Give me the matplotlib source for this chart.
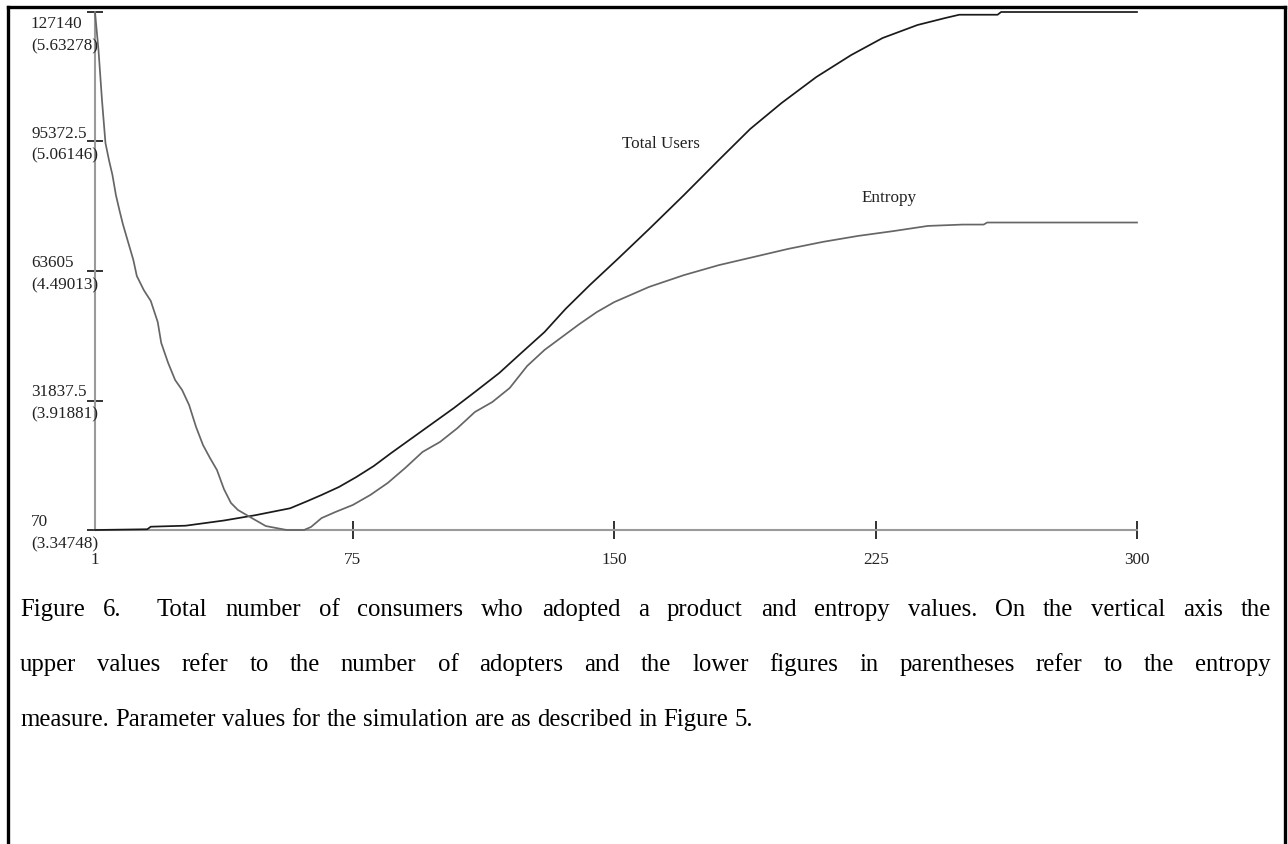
import matplotlib
matplotlib.use("Agg")
import matplotlib.pyplot as plt
from matplotlib.lines import Line2D

# ---------------- data ----------------
users_t = [1, 16, 17, 27, 38, 47, 57, 62, 66, 71, 76, 81, 86, 92, 98, 104, 110,
           117, 123, 130, 136, 143, 151, 160, 170, 180, 189, 198, 208, 218,
           227, 237, 245, 249, 260, 261, 300]
users = [70, 250, 880, 1125, 2400, 3700, 5400, 7180, 8660, 10620, 13070, 15770,
         18960, 22640, 26320, 30000, 33920, 38580, 43250, 48640, 54280, 60170,
         66560, 73900, 82240, 90830, 98440, 104810, 111200, 116590, 120760,
         123950, 125670, 126470, 126470, 127140, 127140]

entropy_t = [1, 2, 3, 4, 5, 6, 7, 8, 9, 10, 12, 13, 15, 17, 19, 20, 22, 24, 26,
             28, 30, 32, 34, 36, 38, 40, 42, 45, 50, 56, 61, 63, 66, 70, 75,
             80, 85, 90, 95, 100, 105, 110, 115, 120, 125, 130, 135, 140, 145,
             150, 160, 170, 180, 190, 200, 210, 220, 230, 240, 250, 256, 257,
             300]
entropy = [5.6328, 5.465, 5.245, 5.055, 4.980, 4.914, 4.825, 4.759, 4.697,
           4.644, 4.539, 4.468, 4.406, 4.358, 4.265, 4.173, 4.084, 4.009,
           3.965, 3.899, 3.802, 3.722, 3.665, 3.612, 3.528, 3.467, 3.436,
           3.409, 3.365, 3.3475, 3.3475, 3.361, 3.400, 3.427, 3.458, 3.502,
           3.555, 3.621, 3.692, 3.736, 3.797, 3.868, 3.912, 3.974, 4.071,
           4.142, 4.199, 4.256, 4.309, 4.353, 4.420, 4.472, 4.516, 4.552,
           4.588, 4.619, 4.645, 4.666, 4.689, 4.695, 4.695, 4.704, 4.704]

y_ticks_users = [70, 31837.5, 63605, 95372.5, 127140]
y_ticks_users_lbl = ["70", "31837.5", "63605", "95372.5", "127140"]
y_ticks_entropy_lbl = ["(3.34748)", "(3.91881)", "(4.49013)", "(5.06146)", "(5.63278)"]
x_ticks = [1, 75, 150, 225, 300]
x_tick_lbl = ["1", "75", "150", "225", "300"]

caption_lines = [
    "Figure 6.  Total number of consumers who adopted a product and entropy values. On the vertical axis the",
    "upper values refer to the number of adopters and the lower figures in parentheses refer to the entropy",
    "measure. Parameter values for the simulation are as described in Figure 5.",
]

# ---------------- figure ----------------
W, H = 1288, 844
plt.rcParams['font.family'] = ['Liberation Serif', 'DejaVu Serif']
fig = plt.figure(figsize=(W / 100, H / 100), dpi=100)
fig.patch.set_facecolor('white')

def fx(px):
    return px / W

def fy(py):
    return 1 - py / H

ax = fig.add_axes([fx(95), fy(530), fx(1137) - fx(95), fy(12) - fy(530)])
ax.set_xlim(1, 300)
ax.set_ylim(70, 127140)
for s in ['top', 'right']:
    ax.spines[s].set_visible(False)
for s in ['left', 'bottom']:
    ax.spines[s].set_color('#9a9a9a')
    ax.spines[s].set_linewidth(1.5)
ax.patch.set_alpha(0)

ax.plot(users_t, users, color='#1a1a1a', lw=1.25, zorder=4, clip_on=False)

ax2 = ax.twinx()
ax2.set_ylim(3.34748, 5.63278)
ax2.set_xlim(1, 300)
ax2.axis('off')
ax2.plot(entropy_t, entropy, color='#666666', lw=1.25, zorder=3, clip_on=False)

# x ticks
ax.set_xticks(x_ticks)
ax.set_xticklabels(x_tick_lbl, fontsize=12.3, color='#222222')
ax.tick_params(axis='x', direction='inout', length=13, width=1.3, color='#222222', pad=9)
ax.xaxis.get_major_ticks()[0].tick1line.set_visible(False)

# y ticks
ax.set_yticks(y_ticks_users)
ax.set_yticklabels([])
ax.tick_params(axis='y', direction='inout', length=11.5, width=1.3, color='#222222')

for i, (v, l1, l2) in enumerate(zip(y_ticks_users, y_ticks_users_lbl, y_ticks_entropy_lbl)):
    if i == len(y_ticks_users) - 1:
        o1, o2 = -12, -34
    else:
        o1, o2 = 8, -14
    ax.annotate(l1, xy=(fx(31), v), xycoords=('figure fraction', 'data'),
                xytext=(0, o1 * 0.72), textcoords='offset points',
                ha='left', va='center', fontsize=12.3, color='#222222', annotation_clip=False)
    ax.annotate(l2, xy=(fx(31), v), xycoords=('figure fraction', 'data'),
                xytext=(0, o2 * 0.72), textcoords='offset points',
                ha='left', va='center', fontsize=12.3, color='#222222', annotation_clip=False)

# series labels
fig.text(fx(622), fy(144), "Total Users", ha='left', va='center', fontsize=12.3, color='#222222')
fig.text(fx(862), fy(198), "Entropy", ha='left', va='center', fontsize=12.3, color='#222222')

# outer border
lw_b = 2.4
fig.add_artist(Line2D([fx(8), fx(1285)], [fy(7), fy(7)], color='black', lw=lw_b))
fig.add_artist(Line2D([fx(8), fx(8)], [fy(7), -0.1], color='black', lw=lw_b))
fig.add_artist(Line2D([fx(1285), fx(1285)], [fy(7), -0.1], color='black', lw=lw_b))

# caption (justified)
renderer = fig.canvas.get_renderer()
cap_fs = 17.8
left_px, right_px = 20, 1271
baselines = [616, 671, 726]

def width_of(s):
    t = fig.text(0, 0, s, fontsize=cap_fs)
    w = t.get_window_extent(renderer).width
    t.remove()
    return w

space_w = width_of("a a") - width_of("aa")
for li, (line, by) in enumerate(zip(caption_lines, baselines)):
    words = line.replace("  ", " \u0000").split(" ")
    gaps_weight = []
    clean = []
    for w in words:
        if w.startswith("\u0000"):
            gaps_weight.append(2.0)
            clean.append(w[1:])
        else:
            gaps_weight.append(1.0)
            clean.append(w)
    gaps_weight = gaps_weight[1:]
    widths = [width_of(w) for w in clean]
    justify = li < len(caption_lines) - 1
    if justify:
        extra = (right_px - left_px) - sum(widths)
        unit = extra / sum(gaps_weight)
    else:
        unit = space_w
    x = left_px
    for k, (w, wd) in enumerate(zip(clean, widths)):
        fig.text(fx(x), fy(by), w, fontsize=cap_fs, ha='left', va='baseline', color='black')
        if k < len(gaps_weight):
            x += wd + unit * gaps_weight[k]

fig.savefig("out.png", dpi=100, facecolor='white')
